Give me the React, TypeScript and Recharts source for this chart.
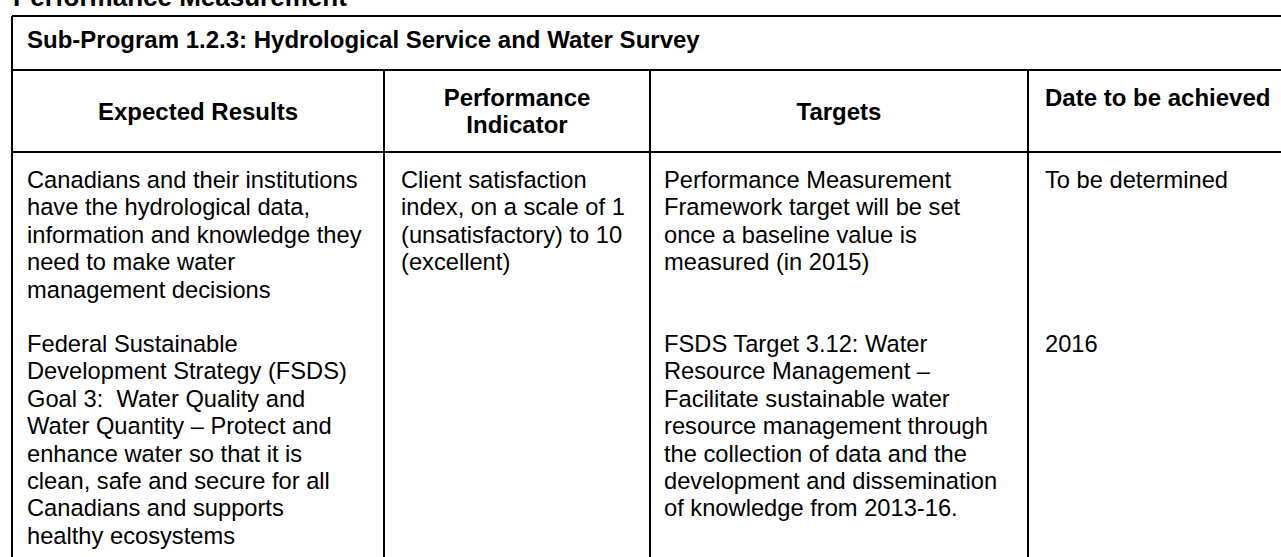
import { ScatterChart, Scatter, XAxis, YAxis, ReferenceLine } from "recharts";

// table content
const TITLE = "Performance Measurement";
const SUB_PROGRAM = "Sub-Program 1.2.3: Hydrological Service and Water Survey";
const HEADERS = [["Expected Results"], ["Performance", "Indicator"], ["Targets"], ["Date to be achieved"]];
const RESULTS = [
  ["Canadians and their institutions", "have the hydrological data,", "information and knowledge they", "need to make water", "management decisions"],
  [
    "Federal Sustainable",
    "Development Strategy (FSDS)",
    "Goal 3:  Water Quality and",
    "Water Quantity – Protect and",
    "enhance water so that it is",
    "clean, safe and secure for all",
    "Canadians and supports",
    "healthy ecosystems",
  ],
];
const INDICATORS = [["Client satisfaction", "index, on a scale of 1", "(unsatisfactory) to 10", "(excellent)"], []];
const TARGETS = [
  ["Performance Measurement", "Framework target will be set", "once a baseline value is", "measured (in 2015)"],
  [
    "FSDS Target 3.12: Water",
    "Resource Management –",
    "Facilitate sustainable water",
    "resource management through",
    "the collection of data and the",
    "development and dissemination",
    "of knowledge from 2013-16.",
  ],
];
const DATES = [["To be determined"], ["2016"]];

// layout (page pixels)
const W = 1281;
const H = 557;
const COL_EDGES = [12, 384, 650, 1028, W];
const COL_TEXT_X = [27, 401, 664, 1045];
const TABLE_TOP = 16;
const SUB_BOTTOM = 70;
const HEAD_BOTTOM = 152;
const LINE_H = 27.4;
const BODY_BASELINES = [188, 352];
const FONT = "'Liberation Sans', Arial, Helvetica, sans-serif";

type Pt = { x: number; y: number; text: string; size: number; bold: boolean; anchor: "start" | "middle" };

const points: Pt[] = [];
points.push({ x: 13, y: 6, text: TITLE, size: 26, bold: true, anchor: "start" });
points.push({ x: 27, y: 48, text: SUB_PROGRAM, size: 24, bold: true, anchor: "start" });

const headCenter = (SUB_BOTTOM + HEAD_BOTTOM) / 2 + 8.5;
HEADERS.forEach((lines, c) => {
  const last = c === 3;
  const first = last ? headCenter - LINE_H / 2 : headCenter - ((lines.length - 1) * LINE_H) / 2;
  lines.forEach((t, i) =>
    points.push({
      x: last ? COL_TEXT_X[c] : (COL_EDGES[c] + COL_EDGES[c + 1]) / 2,
      y: first + i * LINE_H,
      text: t,
      size: 24,
      bold: true,
      anchor: last ? "start" : "middle",
    })
  );
});

[RESULTS, INDICATORS, TARGETS, DATES].forEach((col, c) => {
  col.forEach((cell, r) => {
    cell.forEach((t, i) =>
      points.push({ x: COL_TEXT_X[c], y: BODY_BASELINES[r] + i * LINE_H, text: t, size: 23.7, bold: false, anchor: "start" })
    );
  });
});

const TextMark = (props: any) => {
  const p: Pt = props.payload;
  return (
    <text
      x={props.cx}
      y={props.cy}
      textAnchor={p.anchor}
      fontFamily={FONT}
      fontSize={p.size}
      fontWeight={p.bold ? 700 : 400}
      fill="#000"
      style={{ whiteSpace: "pre" }}
    >
      {p.text}
    </text>
  );
};

const segments: [number, number, number, number][] = [
  [COL_EDGES[0], TABLE_TOP, W, TABLE_TOP],
  [COL_EDGES[0], SUB_BOTTOM, W, SUB_BOTTOM],
  [COL_EDGES[0], HEAD_BOTTOM, W, HEAD_BOTTOM],
  [COL_EDGES[0], TABLE_TOP, COL_EDGES[0], H],
  [COL_EDGES[1], SUB_BOTTOM, COL_EDGES[1], H],
  [COL_EDGES[2], SUB_BOTTOM, COL_EDGES[2], H],
  [COL_EDGES[3], SUB_BOTTOM, COL_EDGES[3], H],
];

export default function App() {
  return (
    <div style={{ position: "absolute", left: 0, top: 0, width: W, height: H, background: "#fff" }}>
      <ScatterChart width={W} height={H} margin={{ top: 0, right: 0, bottom: 0, left: 0 }}>
        <XAxis type="number" dataKey="x" domain={[0, W]} hide allowDataOverflow />
        <YAxis type="number" dataKey="y" domain={[0, H]} reversed hide allowDataOverflow />
        {segments.map(([x1, y1, x2, y2], i) => (
          <ReferenceLine
            key={i}
            segment={[
              { x: x1, y: y1 },
              { x: x2, y: y2 },
            ]}
            stroke="#000"
            strokeWidth={2}
            ifOverflow="visible"
          />
        ))}
        <Scatter data={points} shape={TextMark} isAnimationActive={false} />
      </ScatterChart>
    </div>
  );
}
